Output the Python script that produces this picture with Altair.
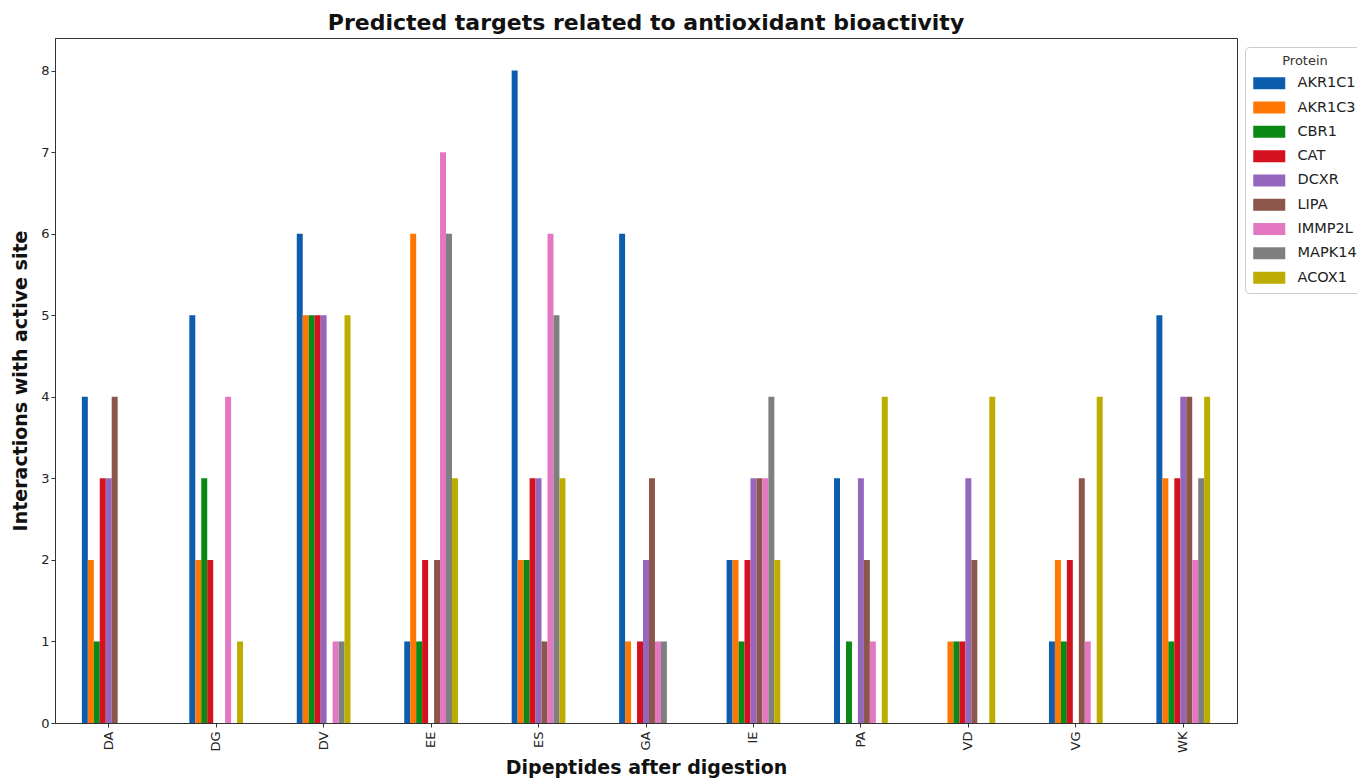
import altair as alt
import pandas as pd

dipeptides = ["DA", "DG", "DV", "EE", "ES", "GA", "IE", "PA", "VD", "VG", "WK"]
proteins = ["AKR1C1", "AKR1C3", "CBR1", "CAT", "DCXR", "LIPA", "IMMP2L", "MAPK14", "ACOX1"]
colors = ["#0c5dad", "#ff7700", "#0a8a14", "#d4111e", "#9467bd", "#8c564b", "#e377c2", "#7f7f7f", "#bcad00"]

AKR1C1 = [4, 5, 6, 1, 8, 6, 2, 3, 0, 1, 5]
AKR1C3 = [2, 2, 5, 6, 2, 1, 2, 0, 1, 2, 3]
CBR1 = [1, 3, 5, 1, 2, 0, 1, 1, 1, 1, 1]
CAT = [3, 2, 5, 2, 3, 1, 2, 0, 1, 2, 3]
DCXR = [3, 0, 5, 0, 3, 2, 3, 3, 3, 0, 4]
LIPA = [4, 0, 0, 2, 1, 3, 3, 2, 2, 3, 4]
IMMP2L = [0, 4, 1, 7, 6, 1, 3, 1, 0, 1, 2]
MAPK14 = [0, 0, 1, 6, 5, 1, 4, 0, 0, 0, 3]
ACOX1 = [0, 1, 5, 3, 3, 0, 2, 4, 4, 4, 4]

series = [AKR1C1, AKR1C3, CBR1, CAT, DCXR, LIPA, IMMP2L, MAPK14, ACOX1]

rows = []
for p, vals in zip(proteins, series):
    for d, v in zip(dipeptides, vals):
        rows.append({"Dipeptide": d, "Protein": p, "Value": v})
df = pd.DataFrame(rows)

FONT = "DejaVu Sans"

chart = alt.Chart(df).mark_bar().encode(
    x=alt.X(
        "Dipeptide:N",
        sort=dipeptides,
        scale=alt.Scale(paddingInner=0.5, paddingOuter=0.25),
        axis=alt.Axis(
            title="Dipeptides after digestion",
            labelAngle=-90,
            labelFontSize=13,
            labelColor="#222",
            titleFontSize=19,
            titleFontWeight="bold",
            titleColor="#111",
            titlePadding=6,
            tickSize=4,
            tickColor="#333",
            domainColor="#333",
            labelPadding=4,
        ),
    ),
    xOffset=alt.XOffset(
        "Protein:N",
        sort=proteins,
        scale=alt.Scale(domain=proteins, paddingInner=0, paddingOuter=0),
    ),
    y=alt.Y(
        "Value:Q",
        scale=alt.Scale(domain=[0, 8.4], nice=False),
        axis=alt.Axis(
            title="Interactions with active site",
            values=list(range(9)),
            grid=False,
            labelFontSize=13,
            labelColor="#222",
            titleFontSize=19,
            titleFontWeight="bold",
            titleColor="#111",
            titlePadding=10,
            tickSize=4,
            tickColor="#333",
            domainColor="#333",
        ),
    ),
    color=alt.Color(
        "Protein:N",
        sort=proteins,
        scale=alt.Scale(domain=proteins, range=colors),
        legend=alt.Legend(
            title="Protein",
            orient="none",
            legendX=1190,
            legendY=9,
            titleFontSize=13,
            titleFontWeight="normal",
            titleColor="#333",
            titleAnchor="middle",
            titlePadding=8,
            labelFontSize=14.5,
            labelColor="#222",
            symbolType="M-2.667,-1H2.667V1H-2.667Z",
            symbolSize=144,
            symbolStrokeWidth=0,
            symbolOpacity=1,
            symbolOffset=9,
            labelOffset=21,
            rowPadding=9.3,
            padding=8,
            strokeColor="#cccccc",
            fillColor="white",
            cornerRadius=4,
        ),
    ),
).properties(
    width=1182,
    height=685,
    title=alt.TitleParams(
        "Predicted targets related to antioxidant bioactivity",
        fontSize=22,
        fontWeight="bold",
        color="#111",
        anchor="middle",
        offset=3,
    ),
    autosize=alt.AutoSizeParams(type="none"),
    padding={"left": 47, "top": 30, "right": 120, "bottom": 55},
).configure(
    font=FONT,
).configure_view(
    stroke="#333",
    strokeWidth=1,
).configure_axis(
    labelFont=FONT,
    titleFont=FONT,
).configure_legend(
    labelFont=FONT,
    titleFont=FONT,
).configure_title(
    font=FONT,
)

chart.save("out.html", embed_options={"renderer": "svg", "actions": False})
